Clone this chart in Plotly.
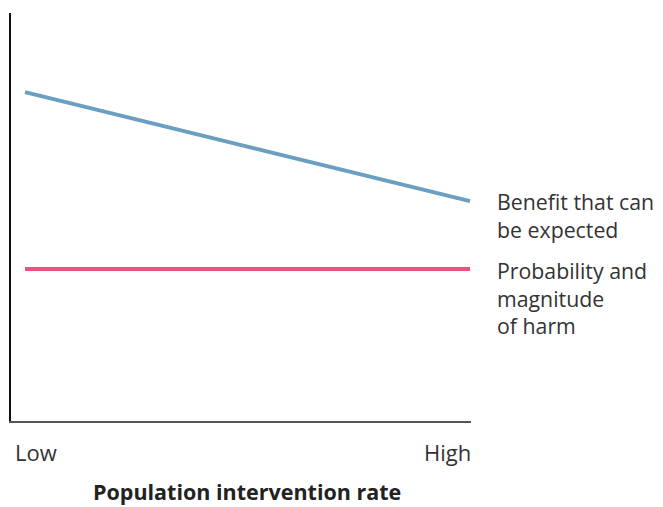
import plotly.graph_objects as go

# Data
x_positions = [0, 1]
tick_labels = ["Low", "High"]
benefit = [0.806, 0.539]
harm = [0.3725, 0.3725]
benefit_label = "Benefit that can<br>be expected"
harm_label = "Probability and<br>magnitude<br>of harm"
x_title = "Population intervention rate"

BLUE = "#6a9fc1"
PINK = "#e9547a"
TXT = "#333333"
FONT = "Open Sans"
FS = 21.3

fig = go.Figure()
fig.add_trace(go.Scatter(x=x_positions, y=benefit, mode="lines",
                         line=dict(color=BLUE, width=4), hoverinfo="skip"))
fig.add_trace(go.Scatter(x=x_positions, y=harm, mode="lines",
                         line=dict(color=PINK, width=4), hoverinfo="skip"))

annotations = [
    dict(x=1.052, y=benefit[-1], xref="paper", yref="y", text=benefit_label,
         showarrow=False, xanchor="left", yanchor="middle", align="left",
         yshift=-14, font=dict(size=FS, color=TXT, family=FONT)),
    dict(x=1.052, y=harm[-1], xref="paper", yref="y", text=harm_label,
         showarrow=False, xanchor="left", yanchor="middle", align="left",
         yshift=-29, font=dict(size=FS, color=TXT, family=FONT)),
    dict(x=0.004, y=0, xref="paper", yref="paper", text=tick_labels[0],
         showarrow=False, xanchor="left", yanchor="middle", yshift=-31,
         font=dict(size=22, color=TXT, family=FONT)),
    dict(x=1.004, y=0, xref="paper", yref="paper", text=tick_labels[1],
         showarrow=False, xanchor="right", yanchor="middle", yshift=-31,
         font=dict(size=22, color=TXT, family=FONT)),
    dict(x=0.514, y=0, xref="paper", yref="paper", text="<b>" + x_title + "</b>",
         showarrow=False, xanchor="center", yanchor="middle", yshift=-70,
         font=dict(size=21.5, color="#222222", family=FONT)),
]

fig.update_layout(
    width=655, height=499,
    margin=dict(l=3, r=192, t=5, b=86),
    paper_bgcolor="white", plot_bgcolor="white",
    showlegend=False,
    annotations=annotations,
    xaxis=dict(range=[-0.03146, 1.0022], showgrid=False, zeroline=False,
               showticklabels=False, ticks="", showline=True,
               linecolor="#555555", linewidth=1.5),
    yaxis=dict(range=[0, 1], showgrid=False, zeroline=False,
               showticklabels=False, ticks="", showline=True,
               linecolor="#111111", linewidth=1.5),
)

fig.write_html("out.html")
